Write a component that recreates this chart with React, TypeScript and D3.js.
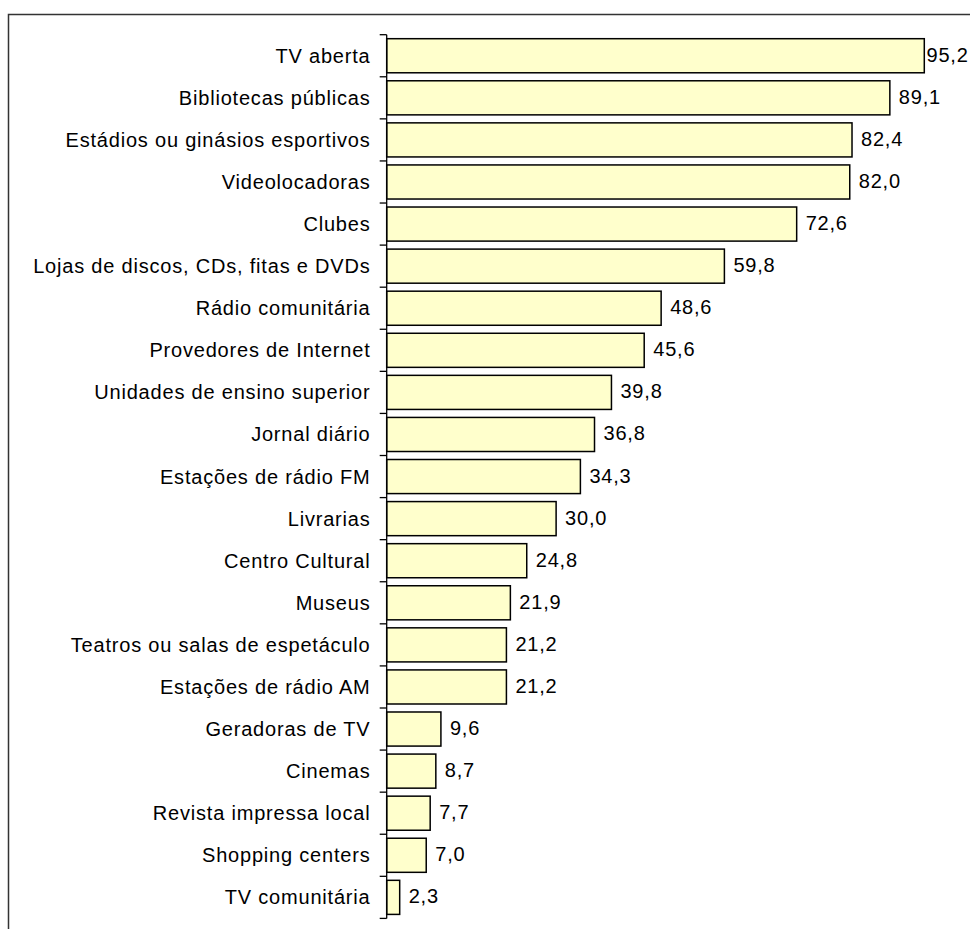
import React from "react";
import * as d3 from "d3";

const categories = [
  "TV aberta",
  "Bibliotecas públicas",
  "Estádios ou ginásios esportivos",
  "Videolocadoras",
  "Clubes",
  "Lojas de discos, CDs, fitas e DVDs",
  "Rádio comunitária",
  "Provedores de Internet",
  "Unidades de ensino superior",
  "Jornal diário",
  "Estações de rádio FM",
  "Livrarias",
  "Centro Cultural",
  "Museus",
  "Teatros ou salas de espetáculo",
  "Estações de rádio AM",
  "Geradoras de TV",
  "Cinemas",
  "Revista impressa local",
  "Shopping centers",
  "TV comunitária",
];

const values = [
  95.2, 89.1, 82.4, 82.0, 72.6, 59.8, 48.6, 45.6, 39.8, 36.8, 34.3, 30.0, 24.8,
  21.9, 21.2, 21.2, 9.6, 8.7, 7.7, 7.0, 2.3,
];

const W = 970;
const H = 929;
const axisX = 386.7;
const top = 34.7;
const bottom = 918.4;

export default function App() {
  const x = d3.scaleLinear().domain([0, 100]).range([axisX, axisX + 564.7]);
  const y = d3
    .scaleBand<string>()
    .domain(categories)
    .range([top, bottom])
    .paddingInner(0.19)
    .paddingOuter(0.095);
  const step = y.step();
  const fmt = (v: number) => v.toFixed(1).replace(".", ",");
  const font = "'Liberation Sans', Arial, sans-serif";

  return (
    <svg
      width={W}
      height={H}
      style={{ position: "absolute", left: 0, top: 0, display: "block", background: "#fff" }}
    >
      <rect x={8.5} y={14.5} width={1000} height={1000} fill="#fff" stroke="#333" strokeWidth={1.5} />
      {categories.map((c, i) => {
        const by = y(c)!;
        const bw = y.bandwidth();
        const cy = by + bw / 2;
        const end = x(values[i]);
        const lx = Math.min(end + 9, 926.5);
        return (
          <g key={c}>
            <rect
              x={x(0)}
              y={by}
              width={end - x(0)}
              height={bw}
              fill="#FFFFCC"
              stroke="#000"
              strokeWidth={1.5}
            />
            <text
              x={370.5}
              y={cy + 7}
              textAnchor="end"
              fontFamily={font}
              fontSize={20}
              letterSpacing={0.8}
              fill="#000"
            >
              {c}
            </text>
            <text
              x={lx}
              y={cy + 6}
              fontFamily={font}
              fontSize={20}
              letterSpacing={0.8}
              fill="#000"
            >
              {fmt(values[i])}
            </text>
          </g>
        );
      })}
      <line x1={axisX} x2={axisX} y1={top} y2={bottom} stroke="#000" strokeWidth={1.3} />
      {d3.range(categories.length + 1).map((i) => (
        <line
          key={i}
          x1={axisX - 7}
          x2={axisX}
          y1={top + i * step}
          y2={top + i * step}
          stroke="#000"
          strokeWidth={1.3}
        />
      ))}
    </svg>
  );
}
